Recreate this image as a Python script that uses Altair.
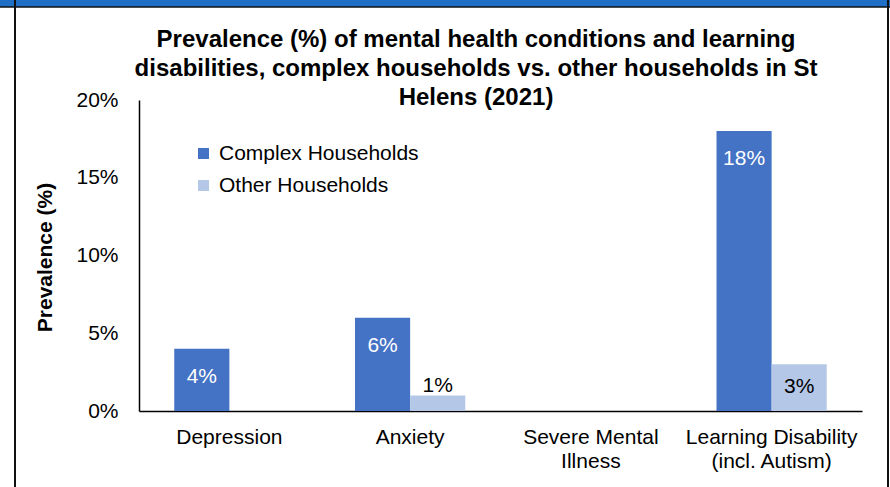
import altair as alt
import pandas as pd

categories = ["Depression", "Anxiety", "Severe Mental\nIllness", "Learning Disability\n(incl. Autism)"]
series_names = ["Complex Households", "Other Households"]
complex_values = [4, 6, 0, 18]
other_values = [0, 1, 0, 3]
y_ticks = [0, 5, 10, 15, 20]
colors = ["#4472C4", "#B4C7E7"]
title_lines = ["Prevalence (%) of mental health conditions and learning",
               "disabilities, complex households vs. other households in St",
               "Helens (2021)"]

rows = []
for c, v in zip(categories, complex_values):
    rows.append({"category": c, "series": series_names[0], "value": v})
for c, v in zip(categories, other_values):
    rows.append({"category": c, "series": series_names[1], "value": v})
df = pd.DataFrame(rows)

FONT = "Liberation Sans"
FS = 21
W, H = 723, 311

x_enc = alt.X("category:N", sort=categories,
              scale=alt.Scale(paddingInner=0.39, paddingOuter=0.195),
              axis=alt.Axis(title=None, labelExpr="split(datum.value, '\\n')",
                            labelAngle=0, labelFontSize=FS, labelFont=FONT,
                            labelColor="black", labelPadding=15, labelLineHeight=24,
                            ticks=False, domainColor="black", domainWidth=1.5))
y_enc = alt.Y("value:Q", scale=alt.Scale(domain=[0, 20], nice=False),
              axis=alt.Axis(values=y_ticks, labelExpr="datum.value + '%'", grid=False,
                            ticks=False, labelFontSize=FS, labelFont=FONT,
                            labelColor="black", labelPadding=21,
                            domainColor="black", domainWidth=1.5,
                            title="Prevalence (%)", titleFont=FONT, titleFontSize=FS,
                            titleFontWeight="bold", titleColor="black",
                            titleX=-94, titleY=157, titleAngle=-90,
                            titleAlign="center", titleBaseline="middle"))
xoff = alt.XOffset("series:N", sort=series_names)

base = alt.Chart(df)

bars = base.mark_bar().encode(
    x=x_enc, y=y_enc, xOffset=xoff,
    color=alt.Color("series:N", sort=series_names,
                    scale=alt.Scale(domain=series_names, range=colors),
                    legend=alt.Legend(title=None, orient="none", legendX=54, legendY=43,
                                      labelFontSize=FS, labelFont=FONT, labelColor="black",
                                      labelLimit=0,
                                      symbolType="square", symbolSize=120,
                                      symbolStrokeWidth=0, rowPadding=10,
                                      labelOffset=5)),
)

def labels(flt, color, dy):
    return base.transform_filter(flt).transform_calculate(
        label="datum.value + '%'"
    ).mark_text(fontSize=FS, font=FONT, color=color, baseline="middle", dy=dy).encode(
        x=alt.X("category:N", sort=categories), y="value:Q", xOffset=xoff,
        text=alt.Text("label:N"),
    )

text_complex = labels((alt.datum.series == series_names[0]) & (alt.datum.value > 0), "white", 28)
text_other_in = labels((alt.datum.series == series_names[1]) & (alt.datum.value >= 2), "black", 23)
text_other_out = labels((alt.datum.series == series_names[1]) & (alt.datum.value > 0)
                        & (alt.datum.value < 2), "black", -9)

one = alt.Data(values=[{}])
title_mark = alt.Chart(one).mark_text(
    font=FONT, fontSize=24, fontWeight="bold", color="black",
    align="center", baseline="middle", lineHeight=29,
).encode(x=alt.value(337), y=alt.value(-60), text=alt.value(title_lines))
top_bar = alt.Chart(one).mark_rect(color="#1F6FC6").encode(
    x=alt.value(-139), x2=alt.value(751), y=alt.value(-100), y2=alt.value(-93))
top_line = alt.Chart(one).mark_rule(color="#111111", strokeWidth=1.5).encode(
    x=alt.value(-139), x2=alt.value(751), y=alt.value(-93))
left_line = alt.Chart(one).mark_rule(color="#111111", strokeWidth=2).encode(
    x=alt.value(-124), y=alt.value(-100), y2=alt.value(387))
right_line = alt.Chart(one).mark_rule(color="#111111", strokeWidth=2).encode(
    x=alt.value(749), y=alt.value(-100), y2=alt.value(387))

chart = alt.layer(
    bars, text_complex, text_other_in, text_other_out,
    title_mark, top_bar, top_line, left_line, right_line
).properties(
    width=W, height=H,
    background="white",
    padding={"left": 139, "top": 100, "right": 28, "bottom": 76},
    autosize=alt.AutoSizeParams(type="none"),
).configure_view(stroke=None)

chart.save("out.html", embed_options={"renderer": "svg", "actions": False})
